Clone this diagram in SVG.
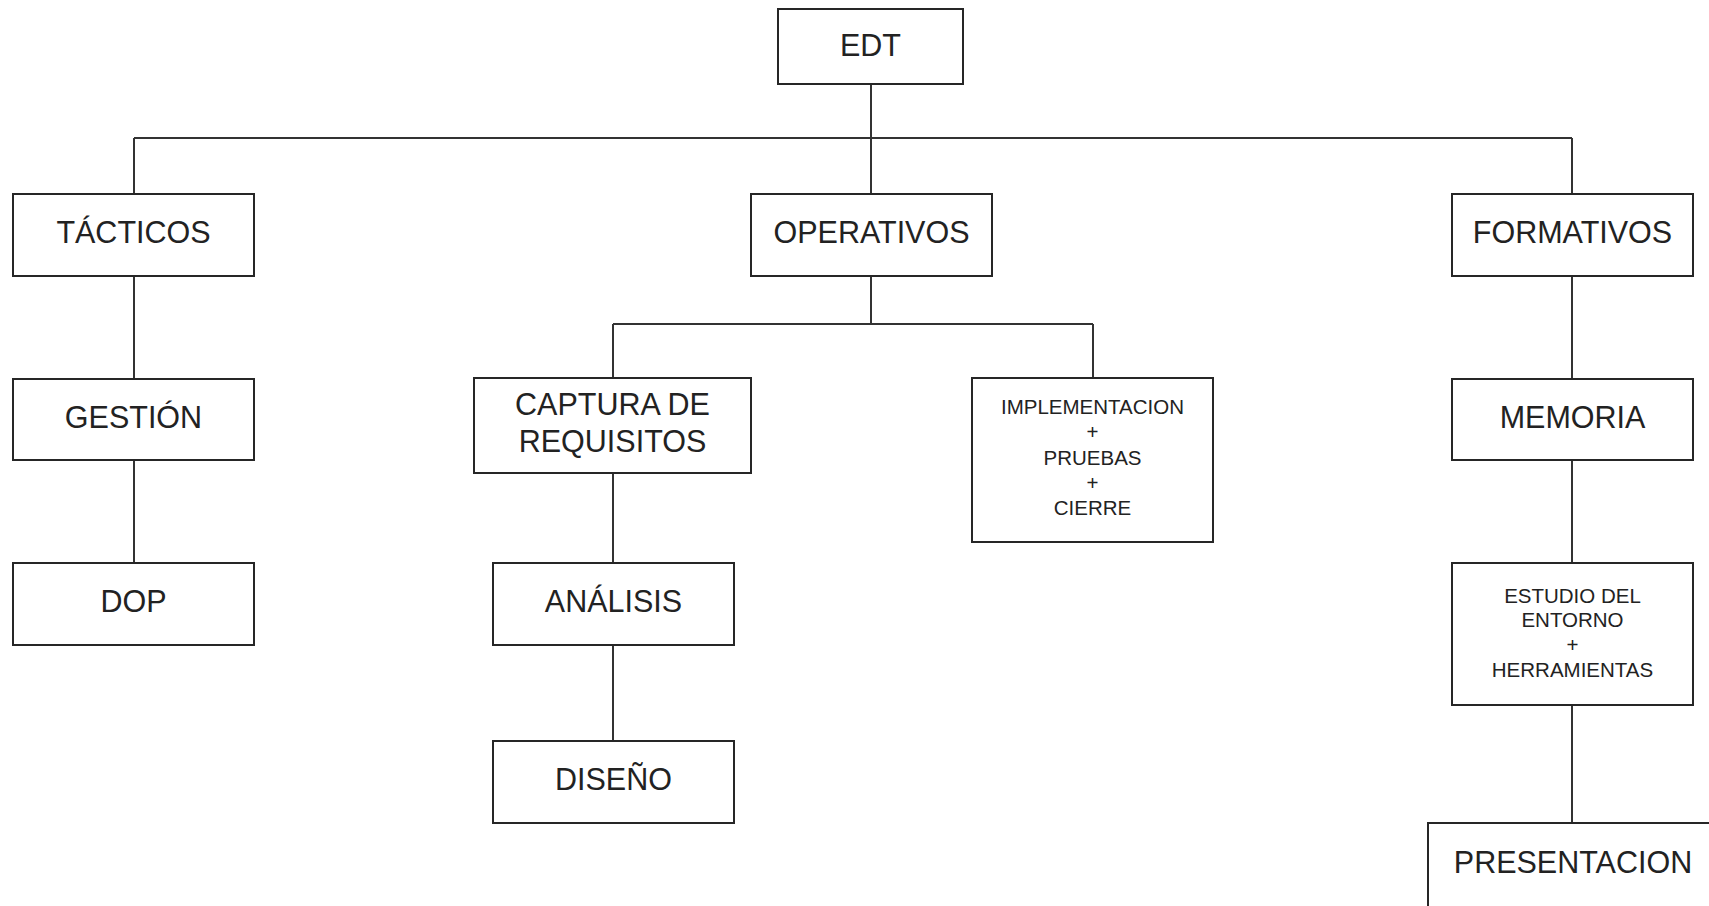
<svg xmlns="http://www.w3.org/2000/svg" width="1709" height="906" viewBox="0 0 1709 906">
  <style>
    .box { fill: #ffffff; stroke: #262626; stroke-width: 2; }
    .wire { fill: none; stroke: #333333; stroke-width: 2; }
    .lbl { font-family: "Liberation Sans", Arial, sans-serif; font-size: 30.5px; fill: #222222; text-anchor: middle; }
    .sm { font-family: "Liberation Sans", Arial, sans-serif; font-size: 20.5px; fill: #222222; text-anchor: middle; }
  </style>
  <rect width="1709" height="906" fill="#ffffff"/>

  <!-- connectors of the breakdown tree -->
  <g id="connectors">
    <path class="wire" d="M871 84 V194"/>
    <path class="wire" d="M134 138 H1572"/>
    <path class="wire" d="M134 138 V194"/>
    <path class="wire" d="M1572 138 V194"/>
    <path class="wire" d="M134 276 V379"/>
    <path class="wire" d="M134 460 V563"/>
    <path class="wire" d="M871 276 V324"/>
    <path class="wire" d="M613 324 H1093"/>
    <path class="wire" d="M613 324 V378"/>
    <path class="wire" d="M1093 324 V378"/>
    <path class="wire" d="M613 473 V563"/>
    <path class="wire" d="M613 645 V741"/>
    <path class="wire" d="M1572 276 V379"/>
    <path class="wire" d="M1572 460 V563"/>
    <path class="wire" d="M1572 705 V823"/>
  </g>

  <g id="edt">
    <rect class="box" x="778" y="9" width="185" height="75"/>
    <text class="lbl" x="870.5" y="56">EDT</text>
  </g>

  <g id="tacticos">
    <rect class="box" x="13" y="194" width="241" height="82"/>
    <text class="lbl" x="133.5" y="243">TÁCTICOS</text>
  </g>
  <g id="gestion">
    <rect class="box" x="13" y="379" width="241" height="81"/>
    <text class="lbl" x="133.5" y="428">GESTIÓN</text>
  </g>
  <g id="dop">
    <rect class="box" x="13" y="563" width="241" height="82"/>
    <text class="lbl" x="133.5" y="612">DOP</text>
  </g>

  <g id="operativos">
    <rect class="box" x="751" y="194" width="241" height="82"/>
    <text class="lbl" x="871.5" y="243">OPERATIVOS</text>
  </g>
  <g id="captura">
    <rect class="box" x="474" y="378" width="277" height="95"/>
    <text class="lbl" x="612.5" y="415">CAPTURA DE</text>
    <text class="lbl" x="612.5" y="452">REQUISITOS</text>
  </g>
  <g id="analisis">
    <rect class="box" x="493" y="563" width="241" height="82"/>
    <text class="lbl" x="613.5" y="612">ANÁLISIS</text>
  </g>
  <g id="diseno">
    <rect class="box" x="493" y="741" width="241" height="82"/>
    <text class="lbl" x="613.5" y="790">DISEÑO</text>
  </g>
  <g id="implementacion">
    <rect class="box" x="972" y="378" width="241" height="164"/>
    <text class="sm" x="1092.5" y="414">IMPLEMENTACION</text>
    <text class="sm" x="1092.5" y="439">+</text>
    <text class="sm" x="1092.5" y="465">PRUEBAS</text>
    <text class="sm" x="1092.5" y="490">+</text>
    <text class="sm" x="1092.5" y="515">CIERRE</text>
  </g>

  <g id="formativos">
    <rect class="box" x="1452" y="194" width="241" height="82"/>
    <text class="lbl" x="1572.5" y="243">FORMATIVOS</text>
  </g>
  <g id="memoria">
    <rect class="box" x="1452" y="379" width="241" height="81"/>
    <text class="lbl" x="1572.5" y="428">MEMORIA</text>
  </g>
  <g id="estudio">
    <rect class="box" x="1452" y="563" width="241" height="142"/>
    <text class="sm" x="1572.5" y="603">ESTUDIO DEL</text>
    <text class="sm" x="1572.5" y="627">ENTORNO</text>
    <text class="sm" x="1572.5" y="652">+</text>
    <text class="sm" x="1572.5" y="677">HERRAMIENTAS</text>
  </g>
  <g id="presentacion">
    <rect class="box" x="1428" y="823" width="290" height="90"/>
    <text class="lbl" x="1573" y="873">PRESENTACION</text>
  </g>
</svg>
